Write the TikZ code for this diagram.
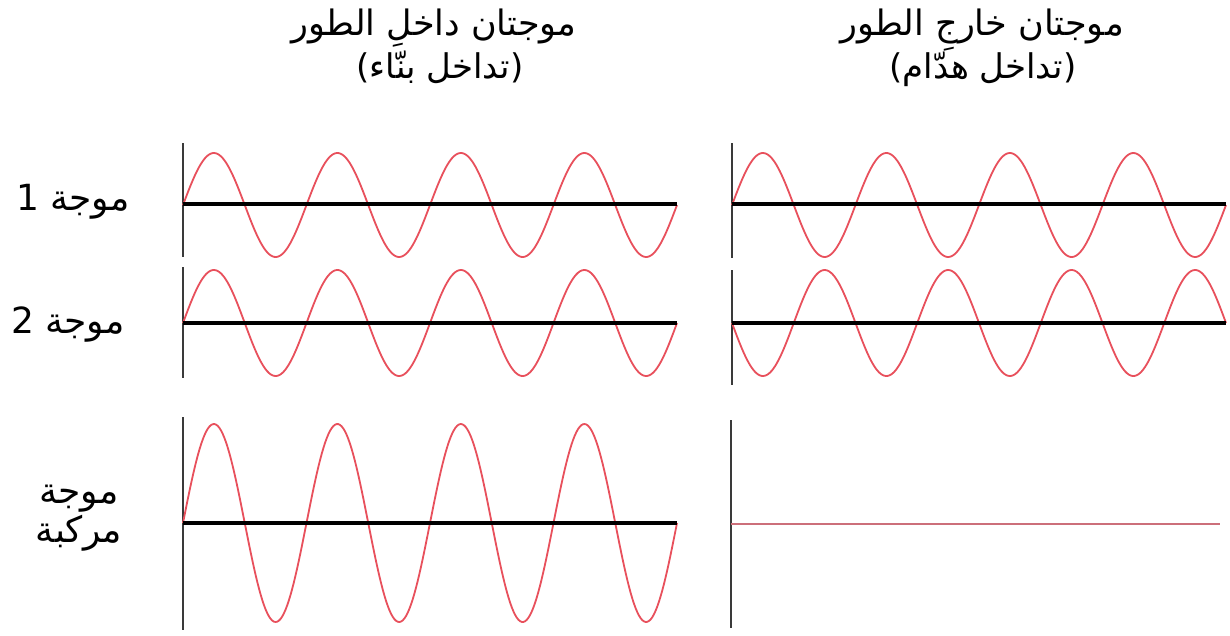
\documentclass[tikz,border=0pt]{standalone}
\usepackage{fontspec}
\newfontfamily\arabicfont[Script=Arabic]{DejaVu Sans}
\TeXXeTstate=1
\definecolor{wavered}{HTML}{E8505C}
\definecolor{flatred}{HTML}{CC6F7A}
\definecolor{axisgray}{HTML}{3A3A3A}
\begin{document}
\begin{tikzpicture}[x=1pt,y=-1pt,
  wave/.style={draw=wavered,line width=1.8pt},
  base/.style={draw=black,line width=3.6pt},
  yaxis/.style={draw=axisgray,line width=2.4pt},
  title/.style={font=\arabicfont\fontsize{35}{40}\selectfont,text=black,inner sep=0pt,anchor=base},
  sub/.style={font=\arabicfont\fontsize{34}{40}\selectfont,text=black,inner sep=0pt,anchor=base},
  lab/.style={font=\arabicfont\fontsize{36}{40}\selectfont,text=black,inner sep=0pt,anchor=base}]
\useasboundingbox[fill=white] (0,0) rectangle (1230,635);
% titles
\node[title] (t1) at (434,35) {\beginR موجتان داخلِ الطور\endR};
\node[sub] (s1) at (440,78) {\beginR(تداخل بنّاء)\endR};
\node[title] (t2) at (982,35) {\beginR موجتان خارجِ الطور\endR};
\node[sub] (s2) at (983,78) {\beginR(تداخل هدّام)\endR};
% row labels
\node[lab] (l1) at (73,210) {\beginR موجة 1\endR};
\node[lab] (l2) at (68,333) {\beginR موجة 2\endR};
\node[lab] (l3a) at (79,503) {\beginR موجة\endR};
\node[lab] (l3b) at (79,542) {\beginR مركبة\endR};
% left column
\draw[yaxis] (183,143) -- (183,257);
\draw[yaxis] (183,267) -- (183,378);
\draw[yaxis] (183,417) -- (183,630);
\draw[wave] plot[domain=0:494,samples=300] ({183+\x},{205-52*sin(\x/123.5*360)});
\draw[wave] plot[domain=0:494,samples=300] ({183+\x},{323-53*sin(\x/123.5*360)});
\draw[wave] plot[domain=0:494,samples=300] ({183+\x},{523-99*sin(\x/123.5*360)});
\draw[base] (183,204) -- (677,204);
\draw[base] (183,323) -- (677,323);
\draw[base] (183,523) -- (677,523);
% right column
\draw[yaxis] (732,143) -- (732,258);
\draw[yaxis] (732,270) -- (732,385);
\draw[yaxis] (731,420) -- (731,628);
\draw[wave] plot[domain=0:494,samples=300] ({732+\x},{205-52*sin(\x/123.5*360)});
\draw[wave] plot[domain=0:494,samples=300] ({732+\x},{323+53*sin(\x/123.5*360)});
\draw[base] (732,204) -- (1226,204);
\draw[base] (732,323) -- (1226,323);
\draw[draw=flatred,line width=2.2pt] (731,524) -- (1220,524);
\end{tikzpicture}
\end{document}
